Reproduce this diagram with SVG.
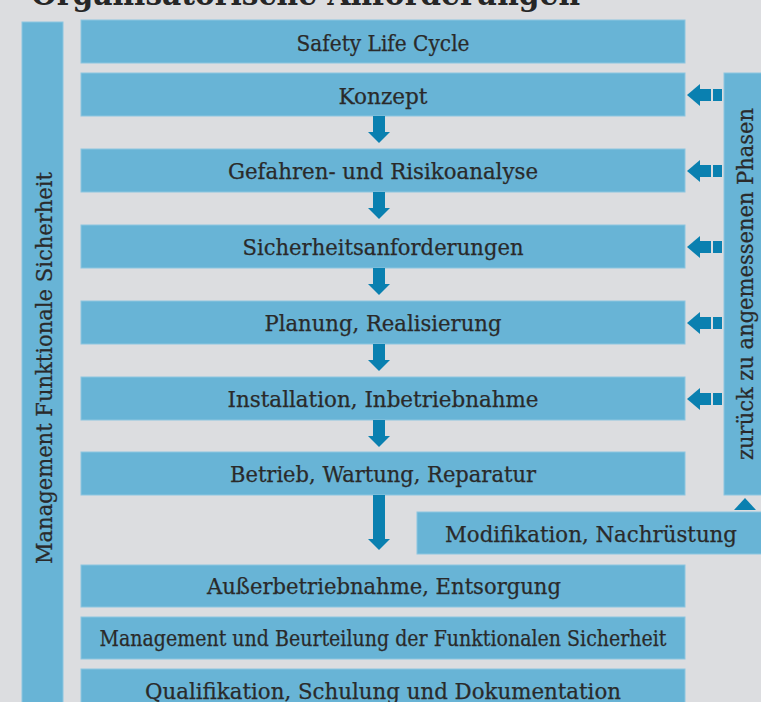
<svg xmlns="http://www.w3.org/2000/svg" xmlns:xlink="http://www.w3.org/1999/xlink" width="761" height="702" viewBox="0 0 761 702">
  <style>
    .box { fill: #68b4d6; stroke: #8cc6e0; stroke-width: 1; }
    .lbl { font-family: "DejaVu Serif", "Liberation Serif", serif; font-size: 22px; fill: #2a2a2a; stroke: #2a2a2a; stroke-width: 0.25; text-anchor: middle; }
    .title { font-family: "DejaVu Serif", "Liberation Serif", serif; font-size: 32px; font-weight: bold; fill: #262626; }
    .arr { fill: #0a80b0; }
  </style>
  <defs>
    <!-- short downward arrow: shaft and head, origin at top centre -->
    <g id="down">
      <rect x="-6" y="0" width="12" height="16"/>
      <polygon points="-11,16 11,16 0,27"/>
    </g>
    <!-- leftward arrow with two trailing blocks, origin at tip -->
    <g id="left">
      <polygon points="0,0 13,-11 13,11"/>
      <rect x="13" y="-6" width="11" height="12"/>
      <rect x="26" y="-6" width="9" height="12"/>
    </g>
  </defs>

  <rect width="761" height="702" fill="#dcdde0"/>

  <text class="title" x="31" y="5" textLength="549" lengthAdjust="spacingAndGlyphs">Organisatorische Anforderungen</text>

  <g id="management-bar">
    <rect class="box" x="22" y="22" width="41" height="690"/>
    <text class="lbl" transform="translate(52,368) rotate(-90)" textLength="392" lengthAdjust="spacingAndGlyphs">Management Funktionale Sicherheit</text>
  </g>

  <g id="return-bar">
    <rect class="box" x="724" y="73" width="40" height="422"/>
    <text class="lbl" transform="translate(753,284) rotate(-90)" textLength="352" lengthAdjust="spacingAndGlyphs">zurück zu angemessenen Phasen</text>
  </g>

  <g id="safety-life-cycle">
    <rect class="box" x="81" y="20" width="604" height="43"/>
    <text class="lbl" x="383" y="51" textLength="173" lengthAdjust="spacingAndGlyphs">Safety Life Cycle</text>
  </g>
  <g id="konzept">
    <rect class="box" x="81" y="73" width="604" height="43"/>
    <text class="lbl" x="383" y="104" textLength="89" lengthAdjust="spacingAndGlyphs">Konzept</text>
  </g>
  <g id="gefahren">
    <rect class="box" x="81" y="149" width="604" height="43"/>
    <text class="lbl" x="383" y="179" textLength="310" lengthAdjust="spacingAndGlyphs">Gefahren- und Risikoanalyse</text>
  </g>
  <g id="sicherheitsanforderungen">
    <rect class="box" x="81" y="225" width="604" height="43"/>
    <text class="lbl" x="383" y="255" textLength="281" lengthAdjust="spacingAndGlyphs">Sicherheitsanforderungen</text>
  </g>
  <g id="planung">
    <rect class="box" x="81" y="301" width="604" height="43"/>
    <text class="lbl" x="383" y="331" textLength="237" lengthAdjust="spacingAndGlyphs">Planung, Realisierung</text>
  </g>
  <g id="installation">
    <rect class="box" x="81" y="377" width="604" height="43"/>
    <text class="lbl" x="383" y="407" textLength="311" lengthAdjust="spacingAndGlyphs">Installation, Inbetriebnahme</text>
  </g>
  <g id="betrieb">
    <rect class="box" x="81" y="452" width="604" height="43"/>
    <text class="lbl" x="383" y="482" textLength="306" lengthAdjust="spacingAndGlyphs">Betrieb, Wartung, Reparatur</text>
  </g>
  <g id="modifikation">
    <rect class="box" x="417" y="512" width="350" height="42"/>
    <text class="lbl" x="591" y="542" textLength="292" lengthAdjust="spacingAndGlyphs">Modifikation, Nachrüstung</text>
  </g>
  <g id="ausserbetriebnahme">
    <rect class="box" x="81" y="565" width="604" height="42"/>
    <text class="lbl" x="384" y="594" textLength="354" lengthAdjust="spacingAndGlyphs">Außerbetriebnahme, Entsorgung</text>
  </g>
  <g id="management-beurteilung">
    <rect class="box" x="81" y="617" width="604" height="42"/>
    <text class="lbl" x="383" y="646" textLength="567" lengthAdjust="spacingAndGlyphs">Management und Beurteilung der Funktionalen Sicherheit</text>
  </g>
  <g id="qualifikation">
    <rect class="box" x="81" y="669" width="604" height="45"/>
    <text class="lbl" x="383" y="699" textLength="476" lengthAdjust="spacingAndGlyphs">Qualifikation, Schulung und Dokumentation</text>
  </g>

  <g id="connectors" class="arr">
    <use xlink:href="#down" x="379" y="116"/>
    <use xlink:href="#down" x="379" y="192"/>
    <use xlink:href="#down" x="379" y="268"/>
    <use xlink:href="#down" x="379" y="344"/>
    <use xlink:href="#down" x="379" y="420"/>
    <!-- long arrow from operation down past the modification box -->
    <rect x="373" y="495" width="12" height="44"/>
    <polygon points="368,539 390,539 379,550"/>

    <use xlink:href="#left" x="687" y="95"/>
    <use xlink:href="#left" x="687" y="171"/>
    <use xlink:href="#left" x="687" y="247"/>
    <use xlink:href="#left" x="687" y="323"/>
    <use xlink:href="#left" x="687" y="399"/>

    <!-- upward head from modification into the return bar -->
    <polygon points="734,510 756,510 745,498"/>
  </g>
</svg>
